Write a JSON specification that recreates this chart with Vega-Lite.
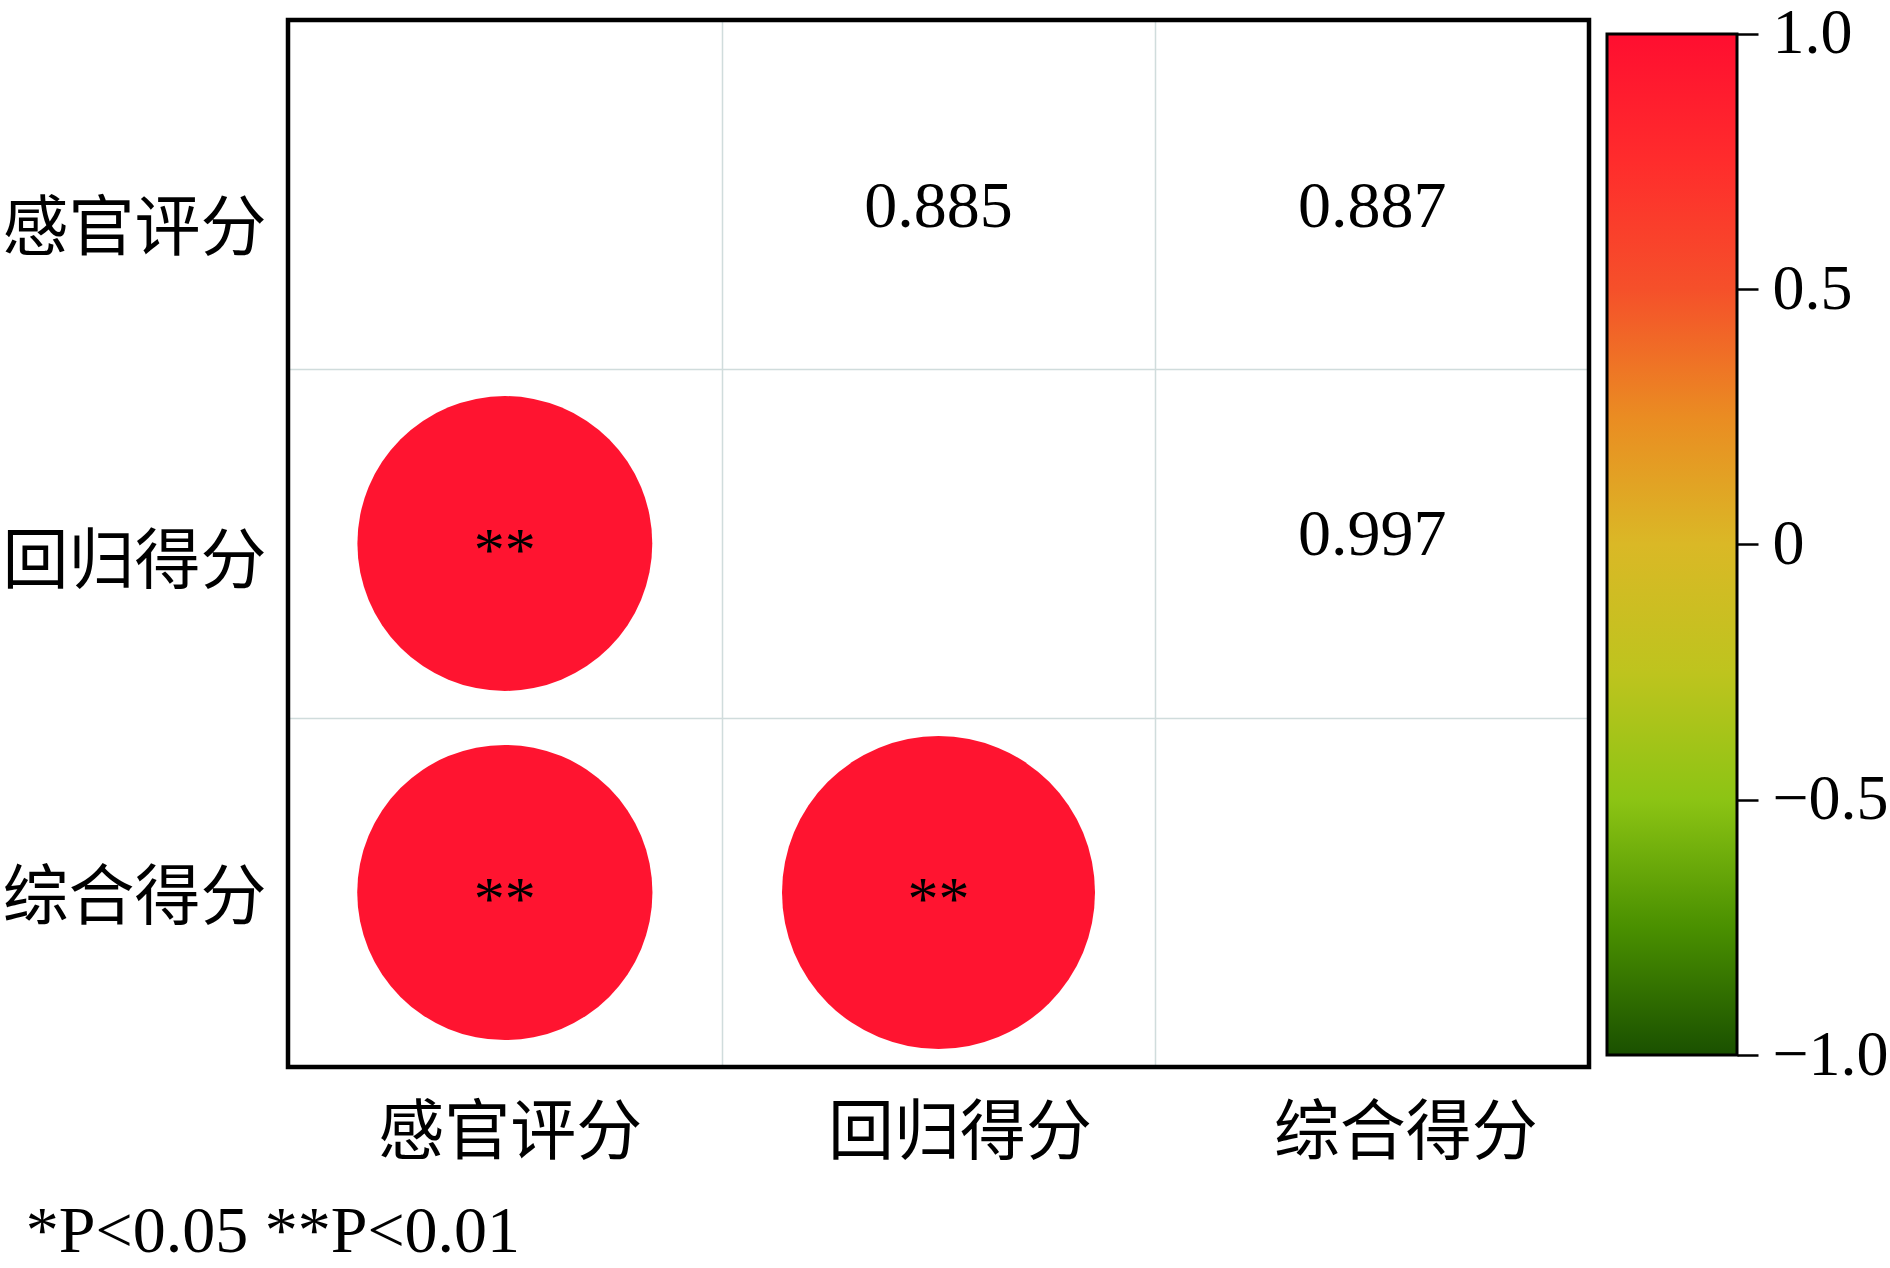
{
  "$schema": "https://vega.github.io/schema/vega-lite/v6.json",
  "background": "white",
  "padding": {"left": -1, "top": -16, "right": 0, "bottom": 0},
  "config": {"view": {"stroke": null}, "font": "Liberation Serif", "style": {"cell": {"strokeForeground": true}}},
  "title": {"text": "*P<0.05 **P<0.01", "orient": "bottom", "anchor": "start", "font": "Liberation Serif", "fontSize": 66, "fontWeight": "normal", "color": "black", "offset": 32, "dx": 26},
  "datasets": {
    "corr": [
      {"col": "回归得分", "row": "感官评分", "r": 0.885, "sig": "**", "part": "upper"},
      {"col": "综合得分", "row": "感官评分", "r": 0.887, "sig": "**", "part": "upper"},
      {"col": "综合得分", "row": "回归得分", "r": 0.997, "sig": "**", "part": "upper"},
      {"col": "感官评分", "row": "回归得分", "r": 0.885, "sig": "**", "part": "lower"},
      {"col": "感官评分", "row": "综合得分", "r": 0.887, "sig": "**", "part": "lower"},
      {"col": "回归得分", "row": "综合得分", "r": 0.997, "sig": "**", "part": "lower"}
    ],
    "bar": [{"lo": -1, "hi": 1}]
  },
  "spacing": 13,
  "hconcat": [
    {
      "width": 1301,
      "height": 1047,
      "view": {"stroke": "black", "strokeWidth": 4.5},
      "data": {"name": "corr"},
      "encoding": {
        "x": {
          "field": "col", "type": "nominal",
          "scale": {"domain": ["感官评分", "回归得分", "综合得分"], "paddingInner": 0, "paddingOuter": 0},
          "axis": {
            "title": null, "orient": "bottom", "domain": false, "ticks": false, "tickBand": "extent",
            "grid": true, "gridColor": "#D0DCDC", "gridWidth": 1.5,
            "labelAngle": 0, "labelFont": "Noto Sans CJK SC", "labelFontSize": 66, "labelColor": "black",
            "labelPadding": 34, "labelBaseline": "top", "labelLimit": 600,
            "labelOffset": {"condition": [{"test": "datum.value === '感官评分'", "value": 5}, {"test": "datum.value === '回归得分'", "value": 21}], "value": 33}
          }
        },
        "y": {
          "field": "row", "type": "nominal",
          "scale": {"domain": ["感官评分", "回归得分", "综合得分"], "paddingInner": 0, "paddingOuter": 0},
          "axis": {
            "title": null, "orient": "left", "domain": false, "ticks": false, "tickBand": "extent",
            "grid": true, "gridColor": "#D0DCDC", "gridWidth": 1.5,
            "labelFont": "Noto Sans CJK SC", "labelFontSize": 66, "labelColor": "black",
            "labelPadding": 22, "labelAlign": "right", "labelBaseline": "middle", "labelLimit": 600,
            "labelOffset": {"condition": [{"test": "datum.value === '感官评分'", "value": 35}, {"test": "datum.value === '回归得分'", "value": 19}], "value": 6}
          }
        }
      },
      "layer": [
        {
          "transform": [{"filter": "datum.part === 'lower'"}],
          "mark": {"type": "circle", "opacity": 1, "color": "#FF1430"},
          "encoding": {
            "size": {"field": "r", "type": "quantitative", "scale": {"domain": [0, 1], "range": [0, 98264]}, "legend": null}
          }
        },
        {
          "transform": [{"filter": "datum.part === 'lower'"}],
          "mark": {"type": "text", "font": "Liberation Serif", "fontSize": 62, "color": "black", "baseline": "middle", "dy": 7},
          "encoding": {"text": {"field": "sig", "type": "nominal"}}
        },
        {
          "transform": [{"filter": "datum.part === 'upper'"}],
          "mark": {"type": "text", "font": "Liberation Serif", "fontSize": 66, "color": "black", "baseline": "middle", "dy": {"expr": "datum.row === '感官评分' ? 12 : -9"}},
          "encoding": {"text": {"field": "r", "type": "quantitative", "format": ".3f"}}
        }
      ]
    },
    {
      "width": 130,
      "height": 1047,
      "data": {"name": "bar"},
      "mark": {
        "type": "rect",
        "fill": {
          "gradient": "linear", "x1": 0, "y1": 1, "x2": 0, "y2": 0,
          "stops": [
            {"offset": 0, "color": "#1A5000"},
            {"offset": 0.125, "color": "#4A9000"},
            {"offset": 0.25, "color": "#8CC414"},
            {"offset": 0.375, "color": "#BEC41E"},
            {"offset": 0.5, "color": "#DAB826"},
            {"offset": 0.625, "color": "#EA8C22"},
            {"offset": 0.75, "color": "#F5502A"},
            {"offset": 0.875, "color": "#FF2C2C"},
            {"offset": 1, "color": "#FF0E30"}
          ]
        },
        "stroke": "black",
        "strokeWidth": 3
      },
      "encoding": {
        "x": {"datum": 0, "type": "quantitative", "scale": {"domain": [0, 1], "nice": false}, "axis": null},
        "x2": {"datum": 1},
        "y": {
          "field": "hi", "type": "quantitative",
          "scale": {"domain": [-1.0235, 1.0274], "nice": false, "zero": false},
          "axis": {
            "orient": "right", "title": null, "values": [-1, -0.5, 0, 0.5, 1],
            "domain": false, "grid": false, "ticks": true, "tickSize": 21, "tickWidth": 2.5, "tickColor": "black",
            "labelFont": "Liberation Serif", "labelFontSize": 64, "labelColor": "black", "labelPadding": 14,
            "labelBaseline": "middle", "labelFlush": false, "labelOverlap": false,
            "labelExpr": "datum.value === 0 ? '0' : format(datum.value, '.1f')"
          }
        },
        "y2": {"field": "lo"}
      }
    }
  ]
}
